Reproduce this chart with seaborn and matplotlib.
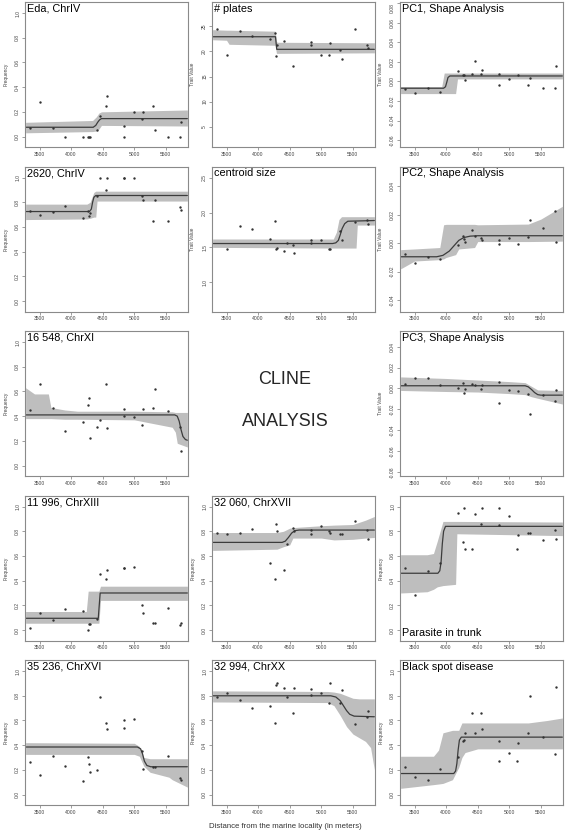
import numpy as np
import matplotlib
matplotlib.use("Agg")
import matplotlib.pyplot as plt
import seaborn as sns

sns.set_theme(style="white")
plt.rcParams['font.family'] = ['Liberation Sans', 'DejaVu Sans']

# sampling sites (distance from marine locality, m)
SITES = [3355, 3500, 3715, 3910, 4185, 4270, 4290, 4305, 4415, 4455, 4545,
         4570, 4830, 4840, 4990, 5115, 5130, 5300, 5320, 5540, 5725, 5745]
NA = np.nan

XTICKS = [3500, 4000, 4500, 5000, 5500]
FREQ_TICKS = [0.0, 0.2, 0.4, 0.6, 0.8, 1.0]
PLATE_TICKS = [5, 10, 15, 20, 25]
PC1_TICKS = [-0.06, -0.04, -0.02, 0.0, 0.02, 0.04, 0.06, 0.08]
CSIZE_TICKS = [1.0, 1.5, 2.0, 2.5]
PC2_TICKS = [-0.04, -0.02, 0.0, 0.02, 0.04]
PC3_TICKS = [-0.08, -0.06, -0.04, -0.02, 0.0, 0.02, 0.04]

# --- Eda, ChrIV
eda_y = [0.07, 0.28, 0.07, 0.0, 0.0, 0.0, 0.0, 0.0, 0.05, 0.165, 0.25,
         0.33, 0.0, 0.085, 0.20, 0.145, 0.20, 0.25, 0.055, 0.0, 0.0, 0.12]
eda_cx = [3280, 4350, 4390, 4420, 4450, 4480, 5840]
eda_cy = [0.075, 0.075, 0.09, 0.115, 0.135, 0.145, 0.145]
eda_bx = [3280, 4340, 4400, 4440, 4480, 5840]
eda_lo = [0.03, 0.04, 0.045, 0.06, 0.09, 0.085]
eda_hi = [0.115, 0.13, 0.16, 0.19, 0.20, 0.215]

# --- # plates
plates_y = [24.5, 19.2, 24.0, 23.1, 22.5, 23.6, 19.0, 21.3, 22.1, NA, 17.0,
            NA, 21.9, 21.3, 19.2, 19.2, 21.7, 20.3, 18.5, 24.5, 21.3, 20.6]
plates_cx = [3280, 4275, 4285, 4295, 5840]
plates_cy = [22.9, 22.9, 21.6, 20.4, 20.4]
plates_bx = [3280, 3500, 3540, 4270, 4290, 4300, 5840]
plates_lo = [22.3, 22.2, 21.4, 21.2, 19.6, 19.6, 19.7]
plates_hi = [24.3, 24.2, 24.2, 24.0, 22.0, 21.8, 21.7]

# --- PC1, Shape Analysis
pc1_y = [-0.0075, -0.012, -0.007, -0.011, 0.011, 0.006, 0.007, 0.0017, 0.008,
         0.021, 0.008, 0.0116, 0.008, -0.004, 0.0024, NA, 0.006, -0.004,
         0.003, -0.007, -0.007, 0.0154]
pc1_cx = [3280, 3960, 3990, 4010, 4030, 4060, 5840]
pc1_cy = [-0.007, -0.007, -0.0055, -0.001, 0.004, 0.0055, 0.0055]
pc1_bx = [3280, 3930, 3970, 4150, 4180, 5840]
pc1_lo = [-0.0125, -0.0125, -0.0125, -0.0125, 0.0025, 0.0025]
pc1_hi = [-0.0055, -0.0055, 0.0085, 0.0085, 0.0085, 0.0085]

# --- 2620, ChrIV
c2620_y = [0.73, 0.70, 0.72, 0.77, 0.67, 0.73, 0.69, 0.71, 0.85, 1.0, 0.90,
           1.0, 1.0, 1.0, 1.0, 0.85, 0.82, 0.65, 0.82, 0.645, 0.76, 0.735]
c2620_cx = [3280, 4290, 4320, 4340, 4360, 4390, 5840]
c2620_cy = [0.725, 0.725, 0.745, 0.80, 0.84, 0.855, 0.855]
c2620_bx = [3280, 4250, 4300, 4360, 4390, 4410, 5840]
c2620_lo = [0.66, 0.665, 0.67, 0.68, 0.68, 0.81, 0.81]
c2620_hi = [0.785, 0.785, 0.80, 0.88, 0.89, 0.89, 0.89]

# --- centroid size
csize_y = [NA, 1.48, 1.80, 1.77, 1.62, 1.88, 1.48, 1.49, 1.45, 1.56, 1.53,
           1.42, 1.60, 1.56, 1.60, 1.48, 1.47, 1.73, 1.61, 1.87, 1.89, 1.84]
csize_cx = [3280, 5180, 5230, 5270, 5300, 5330, 5370, 5420, 5840]
csize_cy = [1.555, 1.555, 1.565, 1.60, 1.68, 1.77, 1.84, 1.875, 1.885]
csize_bx = [3280, 5190, 5240, 5280, 5320, 5550, 5570, 5840]
csize_lo = [1.50, 1.49, 1.49, 1.49, 1.49, 1.49, 1.82, 1.82]
csize_hi = [1.62, 1.62, 1.72, 1.90, 1.94, 1.94, 1.94, 1.94]

# --- PC2, Shape Analysis
pc2_y = [-0.0075, -0.014, -0.010, -0.011, -0.001, 0.005, 0.003, 0.001, 0.0096,
         0.0048, 0.0037, 0.002, -0.0007, 0.0023, 0.0034, NA, -0.0007, 0.0046,
         0.0165, 0.0107, 0.0229, 0.0011]
pc2_cx = [3280, 3850, 3950, 4050, 4130, 4200, 4280, 4380, 4500, 5840]
pc2_cy = [-0.0095, -0.0095, -0.0085, -0.0055, -0.0015, 0.002, 0.004, 0.005,
          0.0053, 0.0053]
pc2_bx = [3280, 3500, 3900, 3960, 4000, 4150, 4200, 4450, 4500, 5300, 5500, 5840]
pc2_lo = [-0.018, -0.0125, -0.0115, -0.011, -0.010, -0.008, -0.004, -0.003,
          0.0012, 0.0012, 0.0013, 0.0015]
pc2_hi = [-0.0045, -0.004, -0.003, 0.013, 0.0133, 0.0133, 0.0133, 0.0133,
          0.013, 0.0135, 0.017, 0.026]

# --- 16 548, ChrXI
c16548_y = [0.45, 0.66, 0.47, 0.28, 0.35, 0.49, 0.545, 0.22, 0.315, 0.37, 0.66,
            0.30, 0.46, 0.40, 0.395, 0.33, 0.455, 0.47, 0.62, 0.44, 0.315, 0.12]
c16548_cx = [3280, 5640, 5680, 5710, 5740, 5770, 5810, 5840]
c16548_cy = [0.41, 0.41, 0.40, 0.36, 0.29, 0.235, 0.21, 0.205]
c16548_bx = [3280, 3420, 3640, 3680, 3900, 4100, 5000, 5600, 5650, 5680, 5840]
c16548_lo = [0.38, 0.38, 0.38, 0.38, 0.375, 0.375, 0.37, 0.31, 0.27, 0.18, 0.15]
c16548_hi = [0.63, 0.58, 0.58, 0.47, 0.45, 0.44, 0.44, 0.435, 0.43, 0.43, 0.43]

# --- PC3, Shape Analysis
pc3_y = [0.0046, 0.0095, 0.0102, 0.003, 0.0, 0.0055, -0.0046, -0.0006, 0.004,
         0.003, -0.0006, 0.0037, 0.0058, -0.0145, -0.0012, NA, -0.0025,
         -0.0058, -0.0246, -0.0068, -0.012, -0.0015]
pc3_cx = [3280, 5250, 5300, 5350, 5400, 5450, 5500, 5840]
pc3_cy = [0.0025, 0.0025, 0.0015, -0.001, -0.004, -0.006, -0.0065, -0.0065]
pc3_bx = [3280, 4000, 4500, 5000, 5250, 5350, 5450, 5840]
pc3_lo = [-0.002, -0.003, -0.0035, -0.005, -0.006, -0.008, -0.0095, -0.015]
pc3_hi = [0.011, 0.0095, 0.008, 0.0065, 0.0055, 0.002, -0.0015, -0.002]

# --- 11 996, ChrXIII
c11996_y = [0.02, 0.14, 0.085, 0.17, 0.155, 0.0, 0.045, 0.045, 0.09, 0.45, 0.41,
            0.49, 0.50, 0.50, 0.51, 0.20, 0.14, 0.055, 0.055, 0.18, 0.04, 0.055]
c11996_cx = [3280, 4430, 4445, 4460, 5840]
c11996_cy = [0.095, 0.095, 0.2, 0.30, 0.30]
c11996_bx = [3280, 4240, 4270, 4440, 4465, 5840]
c11996_lo = [0.055, 0.055, 0.055, 0.055, 0.24, 0.24]
c11996_hi = [0.15, 0.15, 0.315, 0.315, 0.355, 0.355]

# --- 32 060, ChrXVII
c32060_y = [0.785, 0.78, 0.785, 0.82, 0.54, 0.41, 0.86, 0.80, 0.49, 0.70, 0.83,
            0.80, 0.78, 0.81, 0.84, 0.80, 0.785, 0.775, 0.775, 0.885, 0.81, 0.74]
c32060_cx = [3280, 4380, 4430, 4480, 4530, 4580, 4650, 5840]
c32060_cy = [0.71, 0.71, 0.72, 0.75, 0.785, 0.805, 0.81, 0.81]
c32060_bx = [3280, 4300, 4400, 4500, 4550, 5000, 5200, 5500, 5700, 5840]
c32060_lo = [0.645, 0.655, 0.675, 0.69, 0.745, 0.745, 0.73, 0.735, 0.745, 0.75]
c32060_hi = [0.79, 0.79, 0.80, 0.825, 0.83, 0.845, 0.85, 0.855, 0.89, 0.92]

# --- Parasite in trunk
parasite_y = [0.50, 0.28, 0.48, 0.54, 0.95, 0.71, 0.99, 0.66, 0.66, 0.94, 0.86,
              0.99, 0.99, 0.85, 0.92, 0.66, 0.77, 0.79, 0.79, 0.73, 0.81, 0.74]
parasite_cx = [3280, 3870, 3900, 3920, 3940, 3960, 3990, 5840]
parasite_cy = [0.46, 0.46, 0.48, 0.55, 0.70, 0.80, 0.84, 0.84]
parasite_bx = [3280, 3700, 3800, 3860, 3950, 4150, 4170, 5840]
parasite_lo = [0.30, 0.31, 0.33, 0.35, 0.36, 0.37, 0.78, 0.765]
parasite_hi = [0.61, 0.61, 0.62, 0.72, 0.88, 0.88, 0.88, 0.875]

# --- 35 236, ChrXVI
c35236_y = [0.26, 0.16, 0.31, 0.235, 0.11, 0.30, 0.245, 0.18, 0.195, 0.79, 0.58,
            0.53, 0.60, 0.54, 0.61, 0.35, 0.205, 0.22, 0.22, 0.31, 0.135, 0.12]
c35236_cx = [3280, 5050, 5100, 5130, 5160, 5200, 5260, 5840]
c35236_cy = [0.385, 0.385, 0.37, 0.33, 0.27, 0.235, 0.225, 0.225]
c35236_bx = [3280, 5000, 5080, 5150, 5250, 5550, 5600, 5840]
c35236_lo = [0.325, 0.325, 0.31, 0.23, 0.18, 0.14, 0.12, 0.06]
c35236_hi = [0.42, 0.415, 0.39, 0.30, 0.29, 0.29, 0.29, 0.29]

# --- 32 994, ChrXX
c32994_y = [0.79, 0.825, 0.765, 0.70, 0.72, 0.58, 0.885, 0.90, 0.86, 0.79, 0.66,
            0.86, 0.855, 0.81, 0.825, 0.74, 0.905, 0.74, 0.85, 0.575, 0.625, 0.68]
c32994_cx = [3280, 5150, 5230, 5300, 5350, 5400, 5450, 5520, 5840]
c32994_cy = [0.80, 0.80, 0.79, 0.76, 0.72, 0.68, 0.65, 0.635, 0.63]
c32994_bx = [3280, 5100, 5200, 5300, 5400, 5500, 5600, 5700, 5780, 5840]
c32994_lo = [0.75, 0.745, 0.72, 0.64, 0.55, 0.49, 0.46, 0.43, 0.38, 0.20]
c32994_hi = [0.84, 0.835, 0.83, 0.82, 0.80, 0.78, 0.775, 0.775, 0.775, 0.775]

# --- Black spot disease
bspot_y = [0.22, 0.14, 0.12, 0.21, 0.30, 0.435, 0.44, 0.495, 0.66, 0.495, 0.66,
           0.53, 0.43, 0.27, 0.34, 0.275, 0.415, 0.50, 0.80, 0.47, 0.33, 0.87]
bspot_cx = [3280, 4120, 4150, 4170, 4190, 4210, 4240, 5840]
bspot_cy = [0.17, 0.17, 0.19, 0.25, 0.36, 0.44, 0.465, 0.465]
bspot_bx = [3280, 3800, 3880, 3950, 4100, 4200, 4250, 4300, 4500, 5300, 5600, 5840]
bspot_lo = [0.05, 0.08, 0.085, 0.09, 0.12, 0.22, 0.30, 0.34, 0.37, 0.37, 0.37, 0.37]
bspot_hi = [0.31, 0.31, 0.36, 0.50, 0.52, 0.52, 0.58, 0.58, 0.58, 0.58, 0.60, 0.62]

FREQ = (FREQ_TICKS, (-0.085, 1.09), "%.1f", "Frequency")
panels = [
    ("Eda, ChrIV", 0, 0, eda_y, eda_cx, eda_cy, eda_bx, eda_lo, eda_hi, FREQ, "top"),
    ("# plates", 1, 0, plates_y, plates_cx, plates_cy, plates_bx, plates_lo, plates_hi,
     (PLATE_TICKS, (1.0, 29.8), "%d", "Trait Value"), "top"),
    ("PC1, Shape Analysis", 2, 0, pc1_y, pc1_cx, pc1_cy, pc1_bx, pc1_lo, pc1_hi,
     (PC1_TICKS, (-0.067, 0.081), "%.2f", "Trait Value"), "top"),
    ("2620, ChrIV", 0, 1, c2620_y, c2620_cx, c2620_cy, c2620_bx, c2620_lo, c2620_hi, FREQ, "top"),
    ("centroid size", 1, 1, csize_y, csize_cx, csize_cy, csize_bx, csize_lo, csize_hi,
     (CSIZE_TICKS, (0.58, 2.66), "%.1f", "Trait Value"), "top"),
    ("PC2, Shape Analysis", 2, 1, pc2_y, pc2_cx, pc2_cy, pc2_bx, pc2_lo, pc2_hi,
     (PC2_TICKS, (-0.048, 0.054), "%.2f", "Trait Value"), "top"),
    ("16 548, ChrXI", 0, 2, c16548_y, c16548_cx, c16548_cy, c16548_bx, c16548_lo, c16548_hi, FREQ, "top"),
    ("PC3, Shape Analysis", 2, 2, pc3_y, pc3_cx, pc3_cy, pc3_bx, pc3_lo, pc3_hi,
     (PC3_TICKS, (-0.084, 0.055), "%.2f", "Trait Value"), "top"),
    ("11 996, ChrXIII", 0, 3, c11996_y, c11996_cx, c11996_cy, c11996_bx, c11996_lo, c11996_hi, FREQ, "top"),
    ("32 060, ChrXVII", 1, 3, c32060_y, c32060_cx, c32060_cy, c32060_bx, c32060_lo, c32060_hi, FREQ, "top"),
    ("Parasite in trunk", 2, 3, parasite_y, parasite_cx, parasite_cy, parasite_bx, parasite_lo,
     parasite_hi, FREQ, "bottom"),
    ("35 236, ChrXVI", 0, 4, c35236_y, c35236_cx, c35236_cy, c35236_bx, c35236_lo, c35236_hi, FREQ, "top"),
    ("32 994, ChrXX", 1, 4, c32994_y, c32994_cx, c32994_cy, c32994_bx, c32994_lo, c32994_hi, FREQ, "top"),
    ("Black spot disease", 2, 4, bspot_y, bspot_cx, bspot_cy, bspot_bx, bspot_lo, bspot_hi, FREQ, "top"),
]

W, H = 567, 835
COL_LEFT = [25, 212, 400]
AX_W, AX_H = 163, 145


def rect(col, row):
    top = 2 + 164.5 * row
    return [COL_LEFT[col] / W, 1 - (top + AX_H) / H, AX_W / W, AX_H / H]


fig = plt.figure(figsize=(W / 100, H / 100), dpi=100)
fig.patch.set_facecolor("white")

for title, col, row, yv, cx, cy, bx, lo, hi, yspec, tpos in panels:
    ax = fig.add_axes(rect(col, row))
    ticks, ylim, fmt, ylab = yspec
    ax.fill_between(bx, lo, hi, color="#bebebe", lw=0, zorder=1)
    sns.lineplot(x=cx, y=cy, ax=ax, color="#3c3c3c", lw=0.9, estimator=None,
                 sort=False, zorder=2)
    sns.scatterplot(x=SITES, y=yv, ax=ax, s=3, color="#333333", linewidth=0,
                    zorder=3, legend=False)
    ax.set_xlim(3270, 5850)
    ax.set_ylim(*ylim)
    ax.set_xticks(XTICKS)
    ax.set_yticks(ticks)
    ax.set_xticklabels([str(t) for t in XTICKS])
    ylabels = ax.set_yticklabels([fmt % t for t in ticks], rotation=90, va="center")
    # top tick sitting right at the upper frame: keep its label inside the figure
    if row == 0 and ticks[-1] > ylim[0] + 0.97 * (ylim[1] - ylim[0]):
        ylabels[-1].set_va("top")
    ax.tick_params(axis="both", length=2, width=0.5, color="#777777",
                   labelsize=3.6, labelcolor="#444444", pad=1.5, direction="out")
    ax.tick_params(axis="x", bottom=True)
    ax.tick_params(axis="y", left=True)
    for sp in ax.spines.values():
        sp.set_visible(True)
        sp.set_color("#8a8a8a")
        sp.set_linewidth(0.8)
    ax.set_xlabel("")
    ax.set_ylabel(ylab, fontsize=3.5, color="#444444", labelpad=5)
    if tpos == "top":
        ax.text(0.012, 0.988, title, transform=ax.transAxes, ha="left", va="top",
                fontsize=7.8, color="black")
    else:
        ax.text(0.012, 0.015, title, transform=ax.transAxes, ha="left", va="bottom",
                fontsize=7.8, color="black")

fig.text(285 / W, 1 - 379 / H, "CLINE", ha="center", va="center", fontsize=13)
fig.text(285 / W, 1 - 422 / H, "ANALYSIS", ha="center", va="center", fontsize=13)
fig.text(285 / W, 1 - 826 / H, "Distance from the marine locality (in meters)",
         ha="center", va="center", fontsize=5.6, color="#333333")

fig.savefig("out.png", dpi=100)
